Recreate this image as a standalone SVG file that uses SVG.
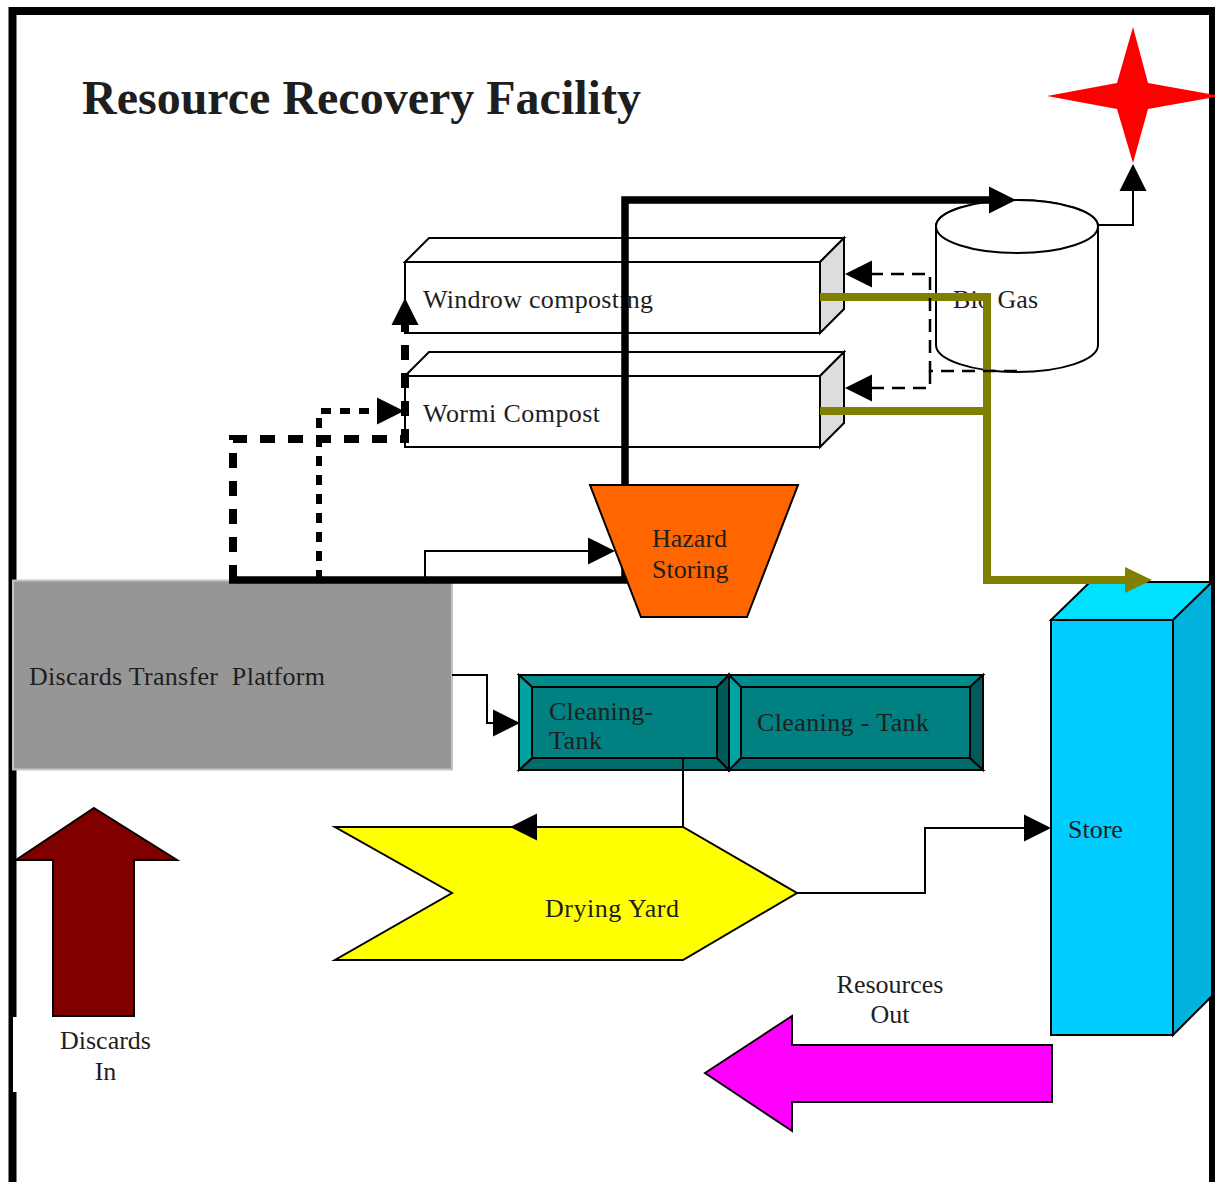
<svg xmlns="http://www.w3.org/2000/svg" width="1215" height="1182" viewBox="0 0 1215 1182">
<style>
text{font-family:"Liberation Serif","Times New Roman",serif;font-size:26px;fill:#1e1e1e}
.title{font-size:48px;font-weight:bold}
.ln{fill:none;stroke:#000;stroke-width:2}
.sh{stroke:#000;stroke-width:2;stroke-linejoin:miter}
.thick{fill:none;stroke:#000;stroke-width:7.5}
.dash{fill:none;stroke:#000;stroke-width:8;stroke-dasharray:15 13}
.dot{fill:none;stroke:#000;stroke-width:6;stroke-dasharray:10 9}
.tdash{fill:none;stroke:#000;stroke-width:2.5;stroke-dasharray:13 8}
.olive{fill:none;stroke:#808000;stroke-width:8}
.mid{text-anchor:middle}
</style>
<defs>
<marker id="ah" markerUnits="userSpaceOnUse" markerWidth="30" markerHeight="30" viewBox="0 -15 30 30" refX="0" refY="0" orient="auto" overflow="visible">
<path d="M0,-13.5 L27,0 L0,13.5 z" fill="#000"/>
</marker>
<marker id="ahO" markerUnits="userSpaceOnUse" markerWidth="30" markerHeight="30" viewBox="0 -15 30 30" refX="0" refY="0" orient="auto" overflow="visible">
<path d="M0,-13 L27,0 L0,13 z" fill="#808000"/>
</marker>
</defs>
<rect width="1215" height="1182" fill="#fff"/>
<path d="M12.5,1182 V11 H1213 V1182" fill="none" stroke="#000" stroke-width="8"/>
<text class="title" x="82" y="114">Resource Recovery Facility</text>

<g id="star">
<polygon points="1133,27 1148,83 1220,96 1148,109 1133,163 1117,109 1047,96 1117,83" fill="#ff0000"/>
</g>

<g id="windrow">
<polygon class="sh" points="405,262 429,238 844,238 820,262" fill="#fff"/>
<polygon class="sh" points="820,262 844,238 844,309 820,333" fill="#dddddd"/>
<rect class="sh" x="405" y="262" width="415" height="71" fill="#fff"/>
<text x="423" y="308" textLength="230" lengthAdjust="spacing">Windrow composting</text>
</g>

<g id="wormi">
<polygon class="sh" points="405,376 429,352 844,352 820,376" fill="#fff"/>
<polygon class="sh" points="820,376 844,352 844,423 820,447" fill="#dddddd"/>
<rect class="sh" x="405" y="376" width="415" height="71" fill="#fff"/>
<text x="423" y="422" textLength="177" lengthAdjust="spacing">Wormi Compost</text>
</g>

<g id="biogas">
<path class="sh" d="M936,226.5 V345 A81,27 0 0,0 1098,345 V226.5 A81,26.5 0 0,0 936,226.5 Z" fill="#fff"/>
<ellipse class="sh" cx="1017" cy="226.5" rx="81" ry="26.5" fill="#fff"/>
<text x="953" y="308" textLength="85" lengthAdjust="spacing">Bio Gas</text>
</g>

<g id="platform">
<rect x="13" y="580.5" width="439" height="189" fill="#969696" stroke="#c4c4c4" stroke-width="2"/>
<text x="29" y="685" xml:space="preserve" textLength="296" lengthAdjust="spacing">Discards Transfer  Platform</text>
</g>

<g id="tank1">
<polygon class="sh" points="519,675 729,675 717,687 532,687" fill="#008c8c"/>
<polygon class="sh" points="519,770 729,770 717,758 532,758" fill="#006b6b"/>
<polygon class="sh" points="519,675 532,687 532,758 519,770" fill="#00a2a2"/>
<polygon class="sh" points="729,675 717,687 717,758 729,770" fill="#005a5a"/>
<rect class="sh" x="532" y="687" width="185" height="71" fill="#008080"/>
<text x="549" y="720" textLength="104" lengthAdjust="spacing">Cleaning-</text>
<text x="549" y="749" textLength="53" lengthAdjust="spacing">Tank</text>
</g>

<g id="tank2">
<polygon class="sh" points="729,675 983,675 970,687 741,687" fill="#008c8c"/>
<polygon class="sh" points="729,770 983,770 970,758 741,758" fill="#006b6b"/>
<polygon class="sh" points="729,675 741,687 741,758 729,770" fill="#00a2a2"/>
<polygon class="sh" points="983,675 970,687 970,758 983,770" fill="#005a5a"/>
<rect class="sh" x="741" y="687" width="229" height="71" fill="#008080"/>
<text x="757" y="731" textLength="172" lengthAdjust="spacing">Cleaning - Tank</text>
</g>

<g id="drying-yard">
<polygon class="sh" points="335,827 683,827 797,893 683,960 335,960 452,893" fill="#ffff00"/>
<text x="545" y="917" textLength="134" lengthAdjust="spacing">Drying Yard</text>
</g>

<g id="store">
<polygon class="sh" points="1051,620 1090,582 1212,582 1173,620" fill="#00e1ff"/>
<polygon class="sh" points="1173,620 1212,582 1212,996 1173,1035" fill="#00b2dc"/>
<rect class="sh" x="1051" y="620" width="122" height="415" fill="#00ccff"/>
<text x="1068" y="838">Store</text>
</g>

<g id="discards-in">
<rect x="13" y="1017" width="185" height="75" fill="#fff"/>
<polygon class="sh" points="94,808 177,860 134,860 134,1016 53,1016 53,860 16,860" fill="#800000"/>
<text class="mid" x="105.5" y="1049">Discards</text>
<text class="mid" x="105.5" y="1080">In</text>
</g>

<g id="resources-out">
<polygon class="sh" points="705,1073 792,1016 792,1045 1052,1045 1052,1102 792,1102 792,1131" fill="#ff00ff"/>
<text class="mid" x="890" y="993">Resources</text>
<text class="mid" x="890" y="1023">Out</text>
</g>

<g id="connectors">
<path class="thick" d="M229,580 H625 V200 H989" marker-end="url(#ah)"/>
<path class="dash" d="M233,580 V439 H405 V325" marker-end="url(#ah)"/>
<path class="dot" d="M319,580 V411 H377" marker-end="url(#ah)"/>
<path class="ln" d="M425,580 V551 H588" marker-end="url(#ah)"/>
<path class="olive" d="M820,297 H987 V580 H1125" marker-end="url(#ahO)"/>
<path class="olive" d="M820,411 H991"/>
<path class="tdash" d="M1017,371 H930 V274 H872" marker-end="url(#ah)"/>
<path class="tdash" d="M930,371 V388 H872" marker-end="url(#ah)"/>
<path class="ln" d="M1098,225 H1133 V191" marker-end="url(#ah)"/>
<path class="ln" d="M452,675 H487 V723 H493" marker-end="url(#ah)"/>
<path class="ln" d="M683,758 V827 H537" marker-end="url(#ah)"/>
<path class="ln" d="M797,893 H925 V828 H1024" marker-end="url(#ah)"/>
</g>

<g id="hazard">
<polygon class="sh" points="590,485 798,485 747,617 641,617" fill="#ff6600"/>
<text x="652" y="547">Hazard</text>
<text x="652" y="578">Storing</text>
</g>
</svg>
